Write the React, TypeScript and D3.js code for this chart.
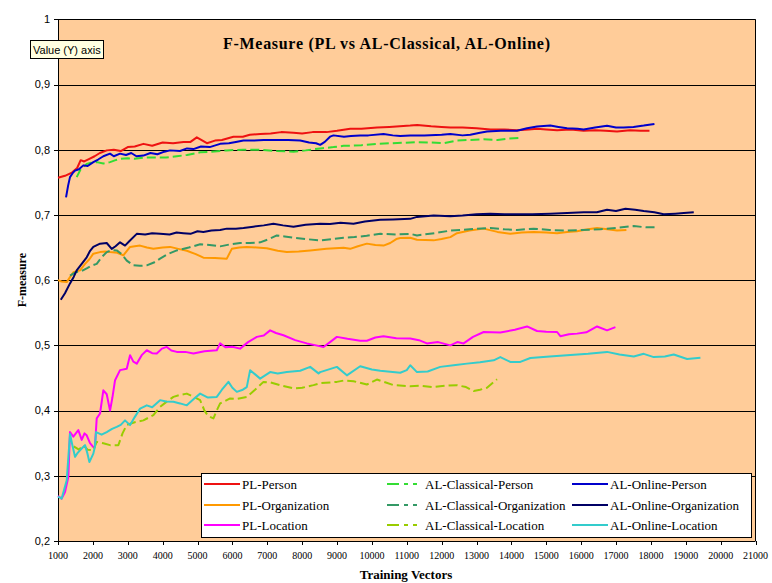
import React from "react";
import * as d3 from "d3";

type Pt = [number, number];

const xTickValues = [1000, 2000, 3000, 4000, 5000, 6000, 7000, 8000, 9000, 10000, 11000, 12000, 13000, 14000, 15000, 16000, 17000, 18000, 19000, 20000, 21000];
const yTickValues = [0.2, 0.3, 0.4, 0.5, 0.6, 0.7, 0.8, 0.9, 1.0];

const plPerson: Pt[] = [[1000,0.757],[1200,0.760],[1400,0.765],[1550,0.772],[1650,0.784],[1750,0.782],[1900,0.786],[2050,0.790],[2200,0.795],[2400,0.799],[2600,0.800],[2800,0.798],[3000,0.804],[3200,0.805],[3450,0.809],[3700,0.806],[4000,0.811],[4300,0.810],[4600,0.812],[4800,0.812],[4980,0.819],[5270,0.810],[5500,0.814],[5700,0.815],[6030,0.820],[6300,0.820],[6500,0.823],[6800,0.824],[7100,0.825],[7400,0.827],[7750,0.826],[8000,0.825],[8300,0.827],[8700,0.827],[9000,0.829],[9380,0.832],[9700,0.832],[10150,0.834],[10500,0.835],[10800,0.836],[11100,0.837],[11300,0.838],[11700,0.836],[12000,0.835],[12250,0.834],[12600,0.834],[13000,0.833],[13400,0.831],[13800,0.831],[14160,0.830],[14500,0.831],[14735,0.832],[15000,0.831],[15310,0.830],[15700,0.831],[16070,0.829],[16400,0.830],[16700,0.829],[17030,0.828],[17400,0.830],[17700,0.829],[17960,0.829]];

const alClassicalPerson: Pt[] = [[1536,0.758],[1650,0.770],[1823,0.778],[1950,0.780],[2110,0.781],[2300,0.779],[2492,0.781],[2650,0.784],[2779,0.786],[3000,0.787],[3200,0.786],[3448,0.788],[3800,0.788],[4100,0.788],[4406,0.790],[4700,0.792],[5075,0.796],[5400,0.797],[5840,0.799],[6300,0.800],[6796,0.800],[7275,0.798],[7752,0.797],[8100,0.799],[8518,0.802],[8900,0.804],[9187,0.806],[9378,0.806],[9700,0.807],[10145,0.809],[10600,0.810],[11100,0.811],[11293,0.8115],[11700,0.811],[12058,0.810],[12440,0.814],[12800,0.815],[13206,0.816],[13600,0.815],[13900,0.817],[14258,0.818]];

const alOnlinePerson: Pt[] = [[1230,0.727],[1290,0.745],[1344,0.758],[1420,0.764],[1488,0.768],[1600,0.770],[1726,0.776],[1850,0.775],[2013,0.781],[2150,0.785],[2300,0.790],[2492,0.794],[2600,0.790],[2779,0.794],[2950,0.792],[3100,0.795],[3250,0.790],[3448,0.791],[3650,0.795],[3850,0.793],[4050,0.797],[4214,0.799],[4500,0.798],[4700,0.802],[4883,0.801],[5100,0.805],[5350,0.804],[5649,0.809],[5900,0.810],[6100,0.812],[6317,0.814],[6600,0.814],[6900,0.815],[7275,0.815],[7600,0.815],[7944,0.814],[8200,0.811],[8400,0.810],[8518,0.8075],[8650,0.812],[8800,0.820],[8900,0.822],[9200,0.820],[9400,0.821],[9665,0.822],[9900,0.822],[10334,0.824],[10600,0.822],[10813,0.821],[11100,0.822],[11500,0.822],[12000,0.823],[12250,0.824],[12600,0.822],[12822,0.823],[13100,0.826],[13301,0.828],[13700,0.829],[14162,0.829],[14450,0.833],[14735,0.8355],[15118,0.837],[15350,0.835],[15596,0.833],[15900,0.832],[16073,0.831],[16400,0.834],[16743,0.8366],[17000,0.834],[17221,0.834],[17500,0.835],[17795,0.837],[18102,0.8396]];

const plOrganization: Pt[] = [[1000,0.600],[1100,0.598],[1250,0.597],[1350,0.605],[1440,0.612],[1631,0.615],[1775,0.625],[1900,0.632],[2013,0.6406],[2205,0.643],[2350,0.644],[2492,0.643],[2700,0.642],[2874,0.638],[3066,0.651],[3200,0.652],[3353,0.653],[3550,0.650],[3735,0.648],[4000,0.650],[4214,0.651],[4450,0.648],[4693,0.645],[4950,0.640],[5169,0.6345],[5500,0.634],[5840,0.633],[5983,0.648],[6200,0.650],[6413,0.651],[6700,0.650],[6987,0.649],[7300,0.645],[7561,0.643],[7900,0.644],[8231,0.6456],[8700,0.648],[9187,0.6497],[9378,0.648],[9600,0.652],[9857,0.656],[10100,0.654],[10334,0.653],[10527,0.657],[10700,0.663],[10813,0.6645],[11100,0.665],[11293,0.662],[11771,0.661],[12000,0.663],[12250,0.666],[12440,0.672],[12800,0.676],[13206,0.679],[13600,0.674],[13970,0.671],[14300,0.673],[14640,0.6737],[15000,0.673],[15310,0.672],[15600,0.674],[15884,0.675],[16200,0.678],[16457,0.680],[16750,0.678],[17030,0.676],[17298,0.677]];

const alClassicalOrganization: Pt[] = [[1344,0.607],[1500,0.612],[1680,0.614],[1823,0.618],[1950,0.622],[2110,0.625],[2250,0.635],[2397,0.643],[2550,0.646],[2684,0.6456],[2820,0.640],[2971,0.630],[3161,0.6227],[3350,0.622],[3545,0.6227],[3750,0.627],[3927,0.633],[4150,0.640],[4406,0.6456],[4750,0.650],[5075,0.655],[5350,0.654],[5649,0.6518],[5950,0.655],[6222,0.657],[6500,0.657],[6796,0.658],[7050,0.663],[7275,0.6686],[7500,0.667],[7752,0.665],[8100,0.663],[8518,0.661],[8850,0.663],[9187,0.665],[9500,0.666],[9850,0.668],[10240,0.671],[10700,0.670],[11100,0.671],[11293,0.6686],[11800,0.672],[12250,0.676],[12800,0.678],[13396,0.680],[13800,0.678],[14162,0.677],[14640,0.679],[15100,0.677],[15596,0.676],[16000,0.677],[16553,0.678],[17000,0.680],[17509,0.683],[17850,0.681],[18179,0.681]];

const alOnlineOrganization: Pt[] = [[1080,0.570],[1200,0.580],[1344,0.595],[1450,0.605],[1536,0.615],[1680,0.625],[1823,0.635],[1920,0.645],[2013,0.651],[2205,0.656],[2397,0.657],[2540,0.648],[2650,0.652],[2779,0.658],[2922,0.653],[3050,0.660],[3258,0.671],[3500,0.670],[3700,0.672],[3927,0.671],[4200,0.670],[4400,0.673],[4595,0.672],[4800,0.671],[5000,0.675],[5169,0.674],[5400,0.676],[5650,0.677],[5840,0.679],[6100,0.679],[6317,0.680],[6600,0.682],[6900,0.684],[7178,0.6865],[7450,0.684],[7752,0.682],[8100,0.685],[8518,0.6865],[8800,0.686],[9100,0.688],[9474,0.6865],[9800,0.690],[10240,0.6926],[10600,0.693],[11100,0.694],[11293,0.697],[11771,0.699],[12250,0.698],[12600,0.699],[13000,0.701],[13396,0.702],[13800,0.701],[14162,0.701],[14600,0.701],[15118,0.702],[15600,0.703],[16073,0.7043],[16450,0.704],[16743,0.708],[17000,0.706],[17270,0.7095],[17550,0.708],[17795,0.706],[18100,0.704],[18369,0.701],[18700,0.702],[18943,0.703],[19230,0.7043]];

const plLocation: Pt[] = [[1000,0.269],[1105,0.265],[1201,0.275],[1296,0.298],[1344,0.367],[1440,0.360],[1583,0.370],[1680,0.355],[1760,0.365],[1823,0.362],[1918,0.350],[2013,0.344],[2060,0.345],[2110,0.388],[2205,0.3955],[2300,0.431],[2397,0.425],[2492,0.400],[2560,0.420],[2636,0.4466],[2779,0.462],[2971,0.464],[3066,0.485],[3160,0.475],[3258,0.472],[3400,0.485],[3545,0.4925],[3700,0.488],[3832,0.4874],[3980,0.495],[4119,0.4976],[4250,0.492],[4406,0.490],[4650,0.490],[4883,0.4874],[5200,0.491],[5553,0.4925],[5649,0.503],[5800,0.497],[6000,0.498],[6222,0.495],[6450,0.505],[6700,0.513],[6900,0.515],[7083,0.523],[7250,0.519],[7465,0.5155],[7800,0.508],[8136,0.503],[8400,0.500],[8614,0.4976],[8800,0.505],[8996,0.513],[9300,0.510],[9665,0.507],[9857,0.507],[10100,0.512],[10334,0.514],[10700,0.511],[11100,0.5105],[11350,0.508],[11578,0.503],[11900,0.505],[12250,0.500],[12450,0.505],[12630,0.503],[12900,0.513],[13206,0.5205],[13683,0.5196],[14100,0.524],[14449,0.529],[14735,0.522],[15000,0.521],[15310,0.5205],[15405,0.514],[15650,0.517],[15883,0.518],[16150,0.520],[16457,0.529],[16743,0.523],[16983,0.528]];

const alClassicalLocation: Pt[] = [[1450,0.345],[1600,0.340],[1726,0.347],[1850,0.340],[2013,0.339],[2110,0.352],[2300,0.350],[2492,0.347],[2731,0.347],[2850,0.365],[2971,0.378],[3200,0.382],[3448,0.385],[3735,0.393],[3927,0.4057],[4100,0.413],[4310,0.421],[4500,0.424],[4693,0.426],[4900,0.421],[5075,0.416],[5200,0.400],[5300,0.392],[5457,0.388],[5550,0.400],[5649,0.411],[5936,0.4186],[6150,0.418],[6413,0.421],[6650,0.432],[6891,0.444],[7100,0.443],[7370,0.439],[7752,0.434],[8000,0.435],[8326,0.439],[8518,0.442],[8996,0.444],[9187,0.446],[9474,0.445],[9857,0.440],[10144,0.4476],[10400,0.443],[10622,0.439],[11100,0.4374],[11400,0.438],[11770,0.436],[12100,0.438],[12440,0.439],[12700,0.436],[12918,0.430],[13100,0.432],[13301,0.435],[13588,0.448]];

const alOnlineLocation: Pt[] = [[1000,0.268],[1105,0.265],[1250,0.293],[1344,0.364],[1400,0.350],[1488,0.329],[1560,0.335],[1631,0.339],[1700,0.343],[1775,0.347],[1840,0.335],[1900,0.321],[2013,0.334],[2060,0.345],[2090,0.367],[2250,0.363],[2397,0.367],[2550,0.372],[2684,0.375],[2800,0.378],[2922,0.385],[3066,0.3777],[3200,0.390],[3353,0.403],[3545,0.408],[3700,0.405],[3927,0.416],[4100,0.414],[4310,0.4134],[4500,0.411],[4693,0.408],[4900,0.418],[5075,0.426],[5300,0.420],[5553,0.421],[5700,0.432],[5887,0.444],[6000,0.435],[6127,0.4287],[6300,0.432],[6413,0.436],[6509,0.462],[6796,0.449],[7083,0.459],[7300,0.457],[7561,0.459],[7944,0.461],[8231,0.467],[8470,0.457],[8518,0.459],[8996,0.467],[9283,0.454],[9665,0.468],[10000,0.463],[10240,0.461],[10813,0.458],[11000,0.462],[11100,0.4695],[11293,0.459],[11600,0.460],[11961,0.467],[12400,0.470],[12727,0.472],[13100,0.474],[13492,0.477],[13683,0.482],[13970,0.4746],[14257,0.4746],[14544,0.4807],[15100,0.483],[15596,0.485],[16200,0.487],[16743,0.490],[17100,0.486],[17509,0.483],[17795,0.487],[18082,0.482],[18400,0.483],[18656,0.486],[19039,0.479],[19421,0.481]];

const seriesNames = ["PL-Person", "AL-Classical-Person", "AL-Online-Person", "PL-Organization", "AL-Classical-Organization", "AL-Online-Organization", "PL-Location", "AL-Classical-Location", "AL-Online-Location"];
const seriesData = [plPerson, alClassicalPerson, alOnlinePerson, plOrganization, alClassicalOrganization, alOnlineOrganization, plLocation, alClassicalLocation, alOnlineLocation];
const seriesColors = ["#ee1111", "#33dd33", "#0000cc", "#ff9900", "#339966", "#000066", "#ff00ff", "#99cc00", "#33cccc"];
const seriesDashed = [false, true, false, false, true, false, false, true, false];

const W = 772;
const H = 583;
const plot = { left: 58, right: 755.5, top: 19.3, bottom: 541 };

export default function App() {
  const x = d3.scaleLinear().domain([1000, 21000]).range([plot.left, plot.right]);
  const y = d3.scaleLinear().domain([0.2, 1.0]).range([plot.bottom, plot.top]);
  const line = d3.line<Pt>().x((d) => x(d[0])).y((d) => y(d[1]));
  const fmtY = (v: number) => (Math.abs(v - 1) < 1e-9 ? "1" : d3.format(".1f")(v).replace(".", ","));

  const serif = "'Liberation Serif', 'Times New Roman', serif";
  const sans = "'Liberation Sans', Arial, sans-serif";

  const legend = { x: 201, y: 473, w: 550, h: 64 };
  const colX = [204, 387, 572];
  const rowY = [484, 505, 525];

  return (
    <svg width={W} height={H} style={{ position: "absolute", left: 0, top: 0, background: "#ffffff" }}>
      <rect x={0} y={0} width={W} height={H} fill="#ffffff" />
      <rect x={plot.left} y={plot.top} width={plot.right - plot.left} height={plot.bottom - plot.top} fill="#ffcc99" />
      {yTickValues.map((v) => (
        <line key={"g" + v} x1={plot.left - 4} x2={plot.right} y1={Math.round(y(v)) + 0.5} y2={Math.round(y(v)) + 0.5} stroke="#000" strokeWidth={1} />
      ))}
      <line x1={plot.left + 0.5} x2={plot.left + 0.5} y1={plot.top} y2={plot.bottom} stroke="#000" />
      <line x1={plot.right} x2={plot.right} y1={plot.top} y2={plot.bottom} stroke="#000" />
      {xTickValues.map((v) => (
        <line key={"xt" + v} x1={Math.round(x(v)) + 0.5} x2={Math.round(x(v)) + 0.5} y1={plot.bottom} y2={plot.bottom + 4} stroke="#000" />
      ))}
      {yTickValues.map((v) => (
        <text key={"yl" + v} x={50} y={y(v)} dy="0.35em" textAnchor="end" fontFamily={sans} fontSize={11} fill="#000">
          {fmtY(v)}
        </text>
      ))}
      {xTickValues.map((v) => (
        <text key={"xl" + v} x={x(v)} y={559} textAnchor="middle" fontFamily={serif} fontSize={10} fill="#000">
          {String(v)}
        </text>
      ))}
      {seriesData.map((d, i) => (
        <path
          key={seriesNames[i]}
          d={line(d) || ""}
          fill="none"
          stroke={seriesColors[i]}
          strokeWidth={2}
          strokeDasharray={seriesDashed[i] ? "9,4" : undefined}
          strokeLinejoin="round"
        />
      ))}
      <text x={386.5} y={49} textAnchor="middle" fontFamily={serif} fontSize={16} fontWeight="bold" fill="#000" textLength={327} lengthAdjust="spacing">
        F-Measure (PL vs AL-Classical, AL-Online)
      </text>
      <text x={406} y={579} textAnchor="middle" fontFamily={serif} fontSize={13} fontWeight="bold" fill="#000">
        Training Vectors
      </text>
      <text transform={`translate(26, ${(plot.top + plot.bottom) / 2}) rotate(-90)`} textAnchor="middle" fontFamily={serif} fontSize={12} fontWeight="bold" fill="#000">
        F-measure
      </text>
      <rect x={legend.x + 0.5} y={legend.y + 0.5} width={legend.w} height={legend.h} fill="#ffffff" stroke="#000" />
      {seriesNames.map((name, i) => {
        const col = i % 3;
        const row = Math.floor(i / 3);
        const lx = colX[col];
        const ly = rowY[row];
        return (
          <g key={"lg" + name}>
            <line x1={lx} x2={lx + 36} y1={ly} y2={ly} stroke={seriesColors[i]} strokeWidth={2} strokeDasharray={seriesDashed[i] ? "12,5,4,5,4,6" : undefined} />
            <text x={lx + 38} y={ly} dy="0.35em" fontFamily={serif} fontSize={13} fill="#000">
              {name}
            </text>
          </g>
        );
      })}
      <rect x={30.5} y={40.5} width={73} height={18} fill="#ffffe1" stroke="#000" strokeWidth={1} />
      <text x={33} y={53.5} fontFamily={sans} fontSize={11} fill="#000">
        Value (Y) axis
      </text>
    </svg>
  );
}
